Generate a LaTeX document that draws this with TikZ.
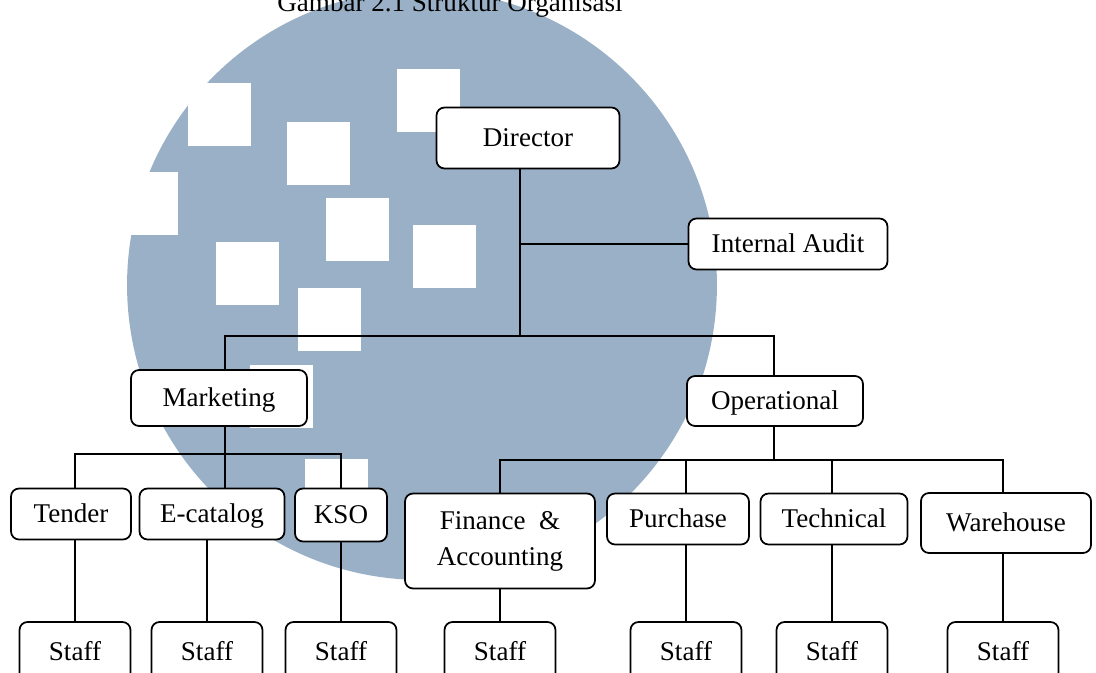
\documentclass[tikz,border=0pt]{standalone}
\usepackage{fontspec}
\setmainfont{Liberation Serif}
\definecolor{logoblue}{RGB}{154,176,199}
\newcommand\orgfont{\fontsize{15.4pt}{20.5pt}\selectfont}
\tikzset{
  orgbox/.style={draw, fill=white, rounded corners=0.16cm, line width=1pt, font=\orgfont, text height=2ex, text depth=0ex},
  link/.style={line width=1pt},
}
\begin{document}
\begin{tikzpicture}[x=0.02cm, y=-0.02cm]
    \useasboundingbox (0,0) rectangle (1096,673);
    \clip (0,0) rectangle (1096,673);
    % logo in the background
    \fill[logoblue] (422,285) circle[radius=5.9cm];
    \foreach \x/\y in {188/83, 287/122, 397/69, 326/198, 413/225, 216/242, 298/288, 115/172, 250/365, 305/459}
    \fill[white] (\x,\y) rectangle ++(63,63);

    \node[font=\orgfont, anchor=base] (title) at (450,11) {Gambar 2.1 Struktur Organisasi};

    % top levels
    \node[orgbox, minimum width=3.66cm, minimum height=1.22cm] (dir) at (528,138) {Director};
    \node[orgbox, minimum width=3.98cm, minimum height=1.02cm] (audit) at (788,244) {Internal Audit};
    \node[orgbox, minimum width=3.52cm, minimum height=1.12cm] (mkt) at (219,398) {Marketing};
    \node[orgbox, minimum width=3.52cm, minimum height=1.0cm] (ops) at (775,401) {Operational};

    % divisions
    \node[orgbox, minimum width=2.4cm, minimum height=1.02cm] (tender) at (71,514) {Tender};
    \node[orgbox, minimum width=2.9cm, minimum height=1.02cm] (ecat) at (212,514) {E-catalog};
    \node[orgbox, minimum width=1.84cm, minimum height=1.06cm] (kso) at (341,515) {KSO};
    \node[orgbox, minimum width=3.8cm, minimum height=1.9cm, align=center, text height=, text depth=] (fin) at (500,541) {Finance \ \&\\Accounting};
    \node[orgbox, minimum width=2.84cm, minimum height=1.02cm] (pur) at (678,519) {Purchase};
    \node[orgbox, minimum width=2.94cm, minimum height=1.02cm] (tech) at (834,519) {Technical};
    \node[orgbox, minimum width=3.4cm, minimum height=1.2cm] (ware) at (1006,523) {Warehouse};

    % staff under every division
    \foreach \p/\s/\x in {tender/s1/75, ecat/s2/207, kso/s3/341, fin/s4/500, pur/s5/686, tech/s6/832, ware/s7/1003}{
      \node[orgbox, minimum width=2.22cm, minimum height=1.2cm] (\s) at (\x,652) {Staff};
      \draw[link] (\s.north) -- (\s.north |- \p.south);
    }

    % director and audit
    \coordinate (dj) at (520,336);
    \draw[link] (dir.south -| dj) -- (dj);
    \draw[link] (audit.west) -- (audit.west -| dj);
    % top bar
    \coordinate (mj) at (225,336);
    \coordinate (oj) at (774,336);
    \draw[link] (mkt.north -| mj) -- (mj) -- (oj) -- (ops.north -| oj);
    % marketing bar
    \coordinate (mbl) at (75,454);
    \coordinate (mbr) at (341,454);
    \draw[link] (mkt.south -| mj) -- (ecat.north -| mj);
    \draw[link] (tender.north -| mbl) -- (mbl) -- (mbr) -- (kso.north -| mbr);
    % operational bar
    \coordinate (obl) at (500,460);
    \coordinate (obr) at (1003,460);
    \coordinate (pj) at (686,460);
    \coordinate (tj) at (832,460);
    \draw[link] (ops.south -| oj) -- (oj |- obl);
    \draw[link] (fin.north -| obl) -- (obl) -- (obr) -- (ware.north -| obr);
    \draw[link] (pur.north -| pj) -- (pj);
    \draw[link] (tech.north -| tj) -- (tj);
\end{tikzpicture}
\end{document}
